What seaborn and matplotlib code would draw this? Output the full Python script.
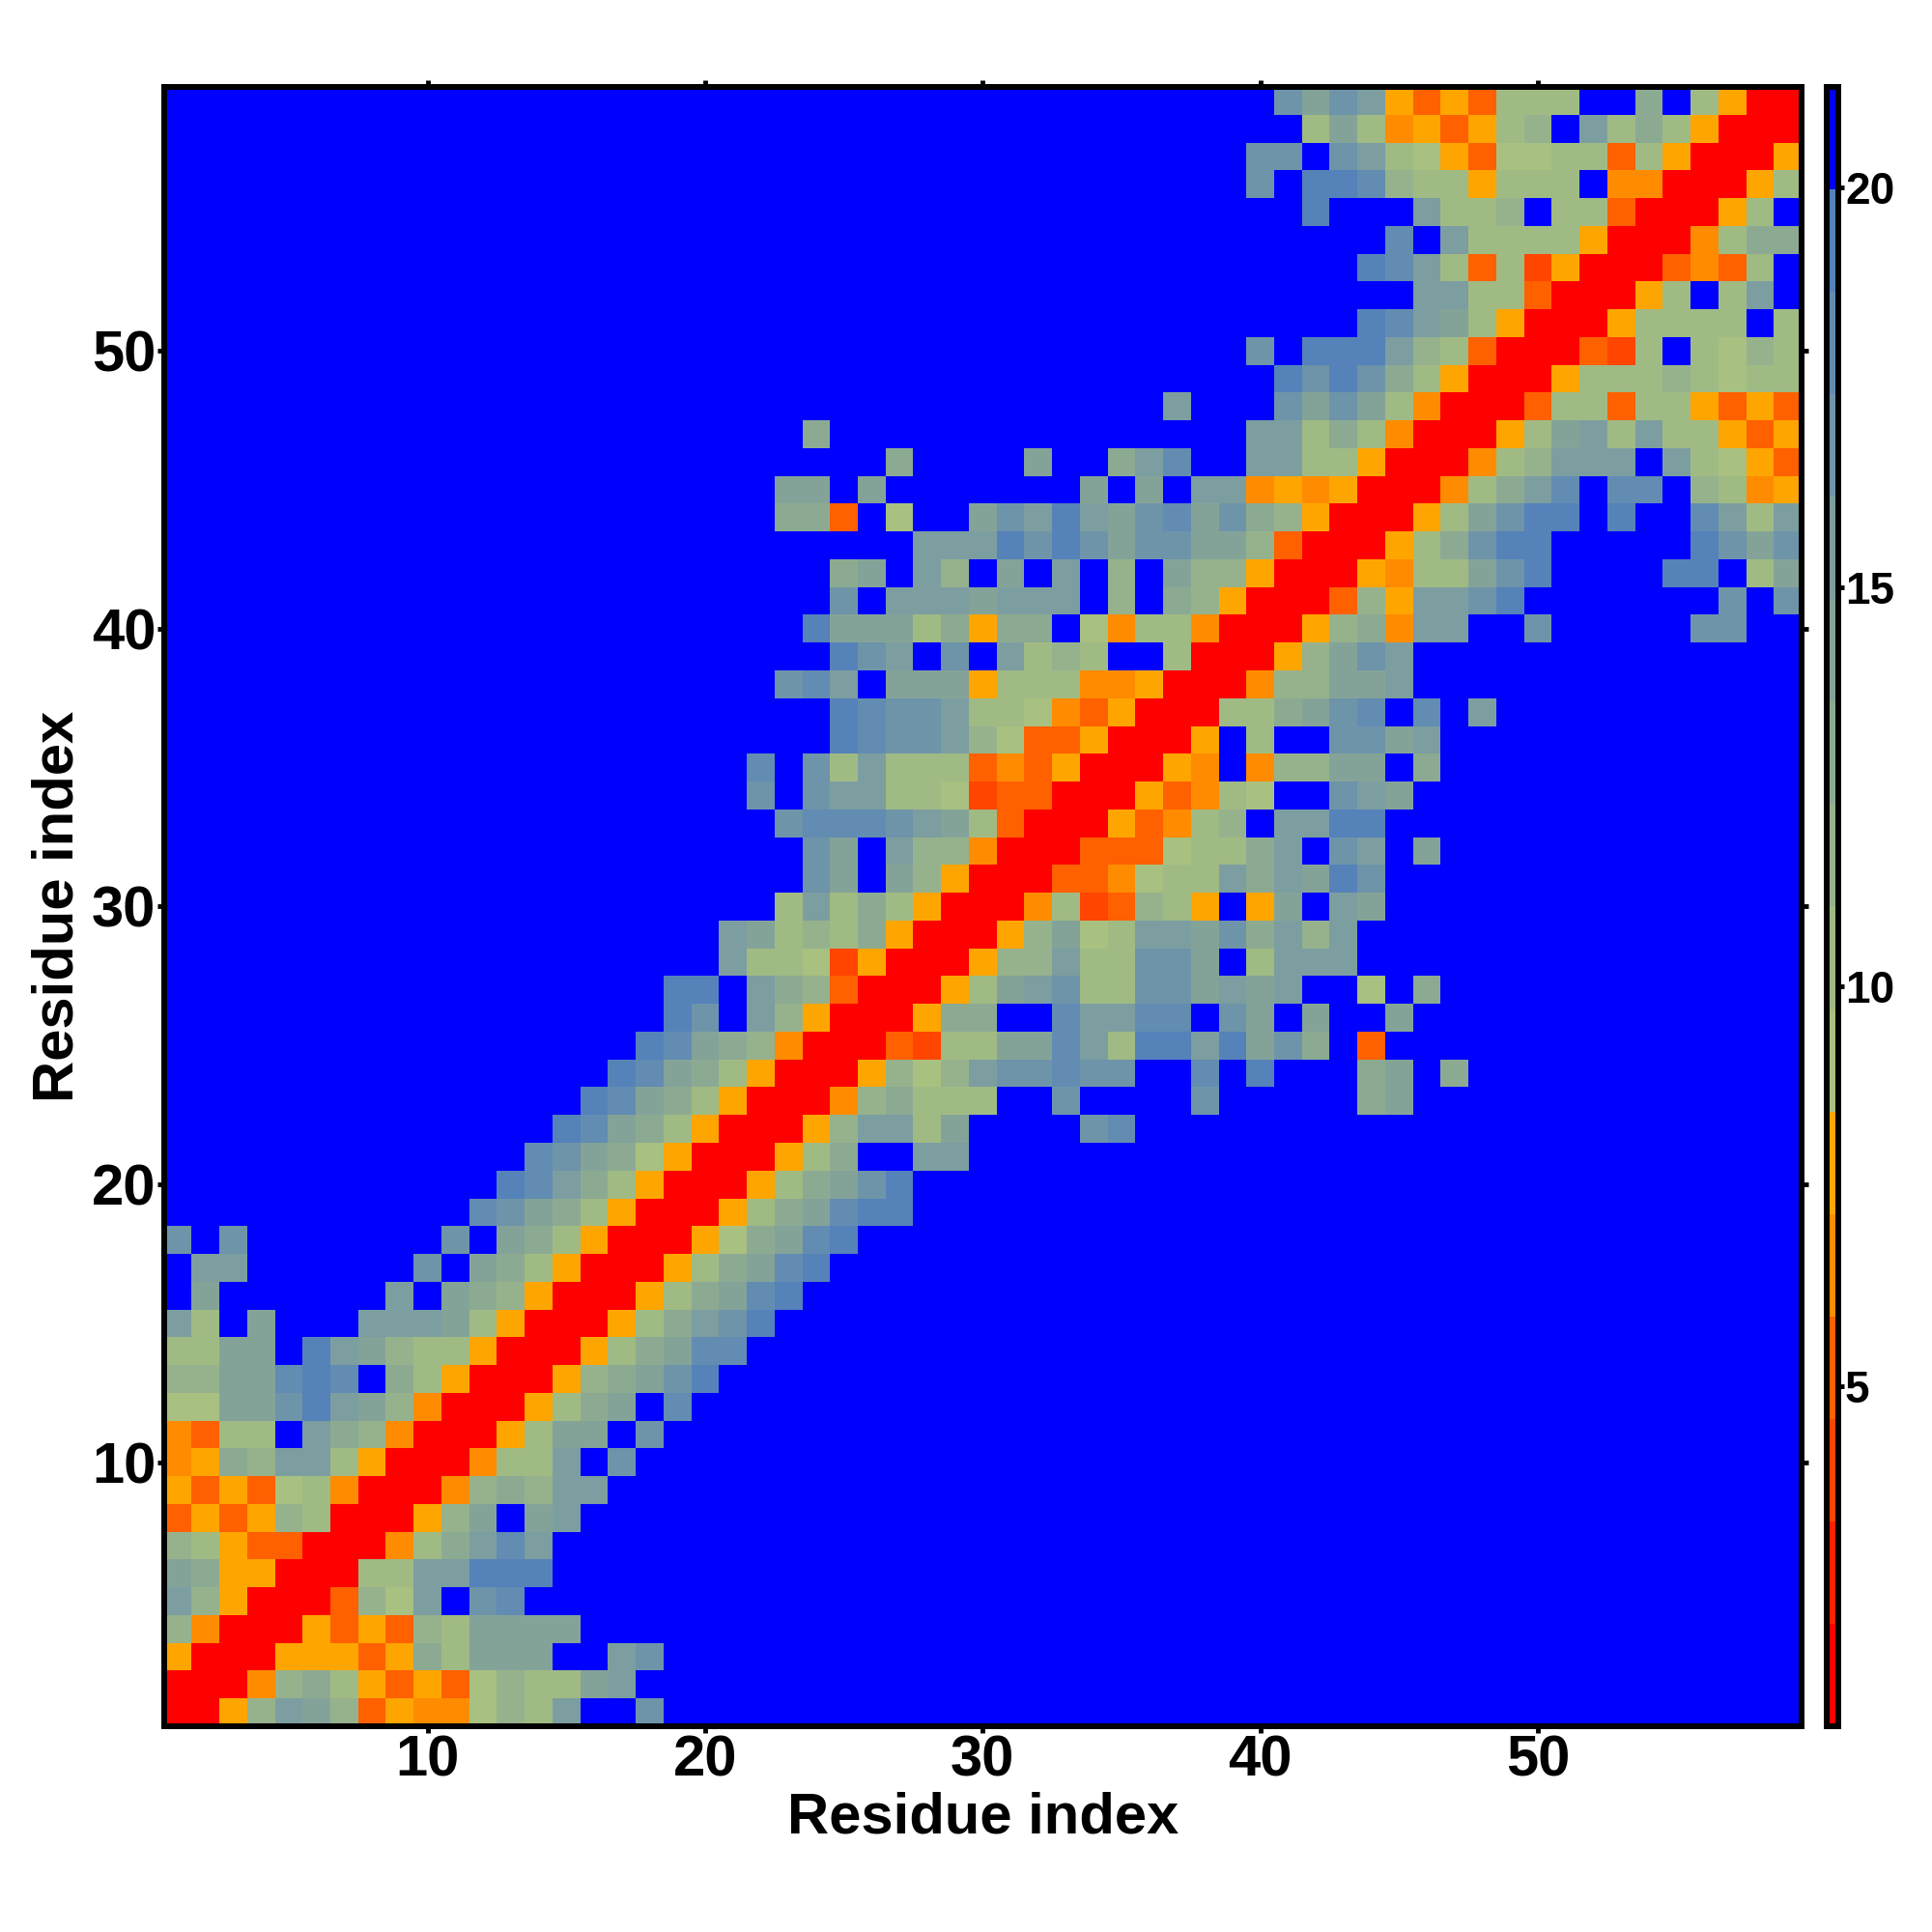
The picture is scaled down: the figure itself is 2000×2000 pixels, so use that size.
import numpy as np
import pandas as pd
import matplotlib
matplotlib.use('Agg')
import matplotlib.pyplot as plt
import seaborn as sns
from matplotlib.colors import ListedColormap

# distance bin per residue pair (hex digit, 0 closest .. f furthest), one string per
# residue from 1 to 59, cells up to the diagonal, all further-left cells are bin f
contact_rows = [
    "0", "00", "500", "8400", "b8500", "a95500", "8753300", "35358700",
    "535367400", "4598bb7500", "4377fb98400", "66aaceba8400", "88aadedf97500",
    "77aafeba877500", "b7fafffbbba7500", "faffffffbfa98500", "fbbffffffcfa97500",
    "cfcfffffffcfa97500", "dca97500", "edb97500", "dca96500", "eda97500",
    "eda97500", "eda97500", "eda98400", "ecfb8500", "eefb98300", "b7762500",
    "ba7879500", "7b797500", "cafa8500", "cafb88400", "cdddcba7300",
    "cfcbb77623300", "dfc7b777343500", "edccb8633500", "edccb77643500",
    "cdbfaaa577744500", "ecbfcfb787ff700", "eaaa79599f6477400",
    "cfbbbabbbf8f98500", "9afb8fafbf8fa88500", "bbbececaccaa8300",
    "993f6ffacbebacdac98500", "aafafffffffafafbb454500", "9ffffaff9bdffbb77500",
    "9fffffffffffffffbb797400", "bfffcaca7400", "ecec97500", "cfeeeb87300",
    "edba7500", "bb77300", "edb7372500", "dfb7777500", "efffb778f77300",
    "cfeed8775777f4400", "ccfcb7653667737500",
    "7a7453578fb797500", "cacb5353777ff9f7500",
]
bin_colors = [
    "#ff0000", "#ff2000", "#ff4500", "#ff6000", "#ff8c00", "#ffa500",
    "#a8c080", "#a0ba84", "#96b28c", "#8caa92", "#84a398", "#7c9ea0",
    "#6e94aa", "#628cb2", "#5582b9", "#0000ff",
]
axis_ticks = [10, 20, 30, 40, 50]
cbar_ticks = [5, 10, 15, 20]
dist_min = 0.744
dist_max = 21.26

n = len(contact_rows)
bin_width = (dist_max - dist_min) / len(bin_colors)
dist = np.zeros((n, n))
for i, row in enumerate(contact_rows):
    levels = [int(c, 16) for c in row.rjust(i + 1, "f")]
    for j, lev in enumerate(levels):
        # symmetric map, use the bin centre as the distance
        dist[i, j] = dist[j, i] = dist_min + (lev + 0.5) * bin_width

residues = np.arange(1, n + 1)
df = pd.DataFrame(dist, index=residues, columns=residues)

sns.set_style("white")
plt.rcParams['font.family'] = ['Liberation Sans', 'DejaVu Sans']
plt.rcParams['font.weight'] = 'bold'

fig = plt.figure(figsize=(20, 20), dpi=100)
ax = fig.add_axes([0.0848, 0.1065, 0.8477, 0.8485])
cax = fig.add_axes([0.9455, 0.1065, 0.0060, 0.8485])

sns.heatmap(df, ax=ax, cbar_ax=cax, cmap=ListedColormap(bin_colors), vmin=dist_min, vmax=dist_max,
            xticklabels=False, yticklabels=False, cbar_kws={'ticks': cbar_ticks})
ax.invert_yaxis()

# heatmap cells sit at 0.5 offsets, so residue r is at r - 0.5
ax.set_xticks([t - 0.5 for t in axis_ticks])
ax.set_yticks([t - 0.5 for t in axis_ticks])
ax.set_xticklabels(axis_ticks, rotation=0)
ax.set_yticklabels(axis_ticks, rotation=0)
ax.tick_params(axis='both', which='both', top=True, right=True, bottom=True, left=True,
               length=5, width=3.5, color='black', labelcolor='black', labelsize=43, pad=1)
ax.set_xlabel("Residue index", fontsize=43, fontweight='bold', labelpad=3, color='black')
ax.set_ylabel("Residue index", fontsize=43, fontweight='bold', labelpad=5, color='black')
for side in ax.spines.values():
    side.set_visible(True)
    side.set_linewidth(4.3)
    side.set_color('black')

cax.tick_params(axis='y', length=4, width=3.5, color='black', labelcolor='black', labelsize=33, pad=1)
cax.spines['outline'].set_linewidth(4.3)
cax.spines['outline'].set_visible(True)
cax.spines['outline'].set_edgecolor('black')

fig.savefig("out.png", dpi=100)
plt.close(fig)
